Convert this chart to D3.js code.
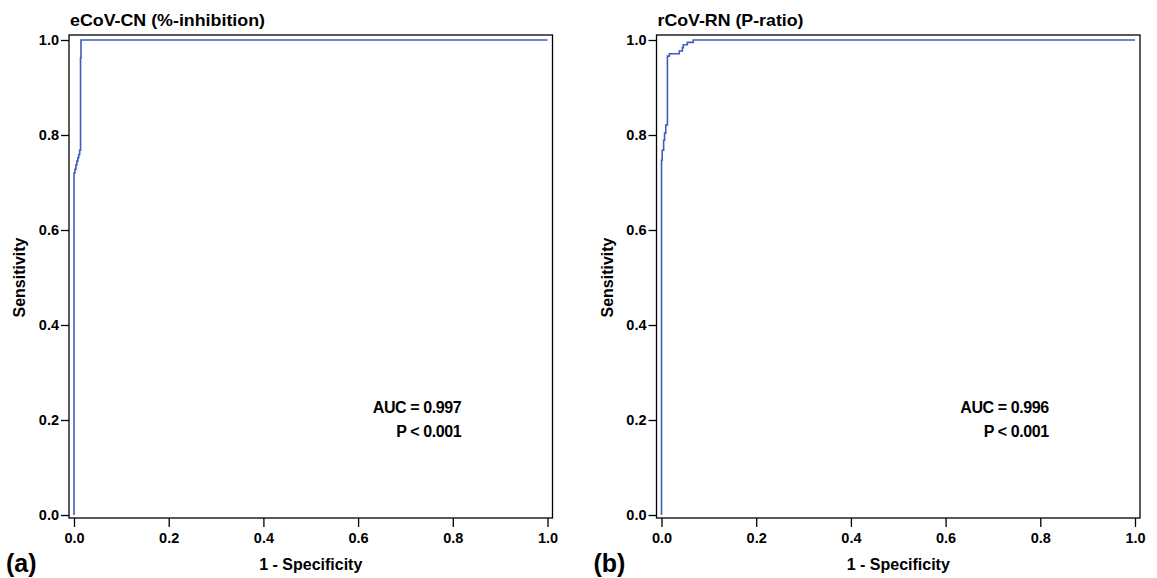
<!DOCTYPE html>
<html>
<head>
<meta charset="utf-8">
<script src="https://cdn.jsdelivr.net/npm/d3@7"></script>
<style>
  html, body { margin: 0; padding: 0; background: #fff; }
  svg { display: block; }
  text { font-family: "Liberation Sans", Arial, sans-serif; fill: #000; }
</style>
</head>
<body>
<svg id="chart" width="1157" height="578"></svg>
<script>
// ---- data ----
const tickValues = [0, 0.2, 0.4, 0.6, 0.8, 1.0];
const tickLabels = ["0.0", "0.2", "0.4", "0.6", "0.8", "1.0"];

const titles = ["eCoV-CN (%-inhibition)", "rCoV-RN (P-ratio)"];
const panelTags = ["(a)", "(b)"];
const aucTexts = ["AUC = 0.997", "AUC = 0.996"];
const pTexts = ["P < 0.001", "P < 0.001"];
const xLabel = "1 - Specificity";
const yLabel = "Sensitivity";

// ROC curve A: 1 - specificity
const rocA_fpr = [0, 0, 0.002, 0.002, 0.004, 0.004, 0.006, 0.006, 0.008, 0.008, 0.010, 0.010, 0.012, 0.012, 0.0138, 0.0138, 0.0148, 0.0148, 1];
// ROC curve A: sensitivity
const rocA_sens = [0, 0.720, 0.720, 0.728, 0.728, 0.737, 0.737, 0.745, 0.745, 0.752, 0.752, 0.759, 0.759, 0.768, 0.768, 0.962, 0.962, 1.0, 1.0];

// ROC curve B: 1 - specificity
const rocB_fpr = [0, 0, 0.0015, 0.0015, 0.0045, 0.0045, 0.0065, 0.0065, 0.009, 0.009, 0.0125, 0.0125, 0.0165, 0.0165, 0.0375, 0.0375, 0.044, 0.044, 0.046, 0.046, 0.0545, 0.0545, 0.067, 0.067, 1];
// ROC curve B: sensitivity
const rocB_sens = [0, 0.747, 0.747, 0.768, 0.768, 0.789, 0.789, 0.804, 0.804, 0.821, 0.821, 0.966, 0.966, 0.971, 0.971, 0.977, 0.977, 0.984, 0.984, 0.990, 0.990, 0.995, 0.995, 1.0, 1.0];

const curves = [
  rocA_fpr.map((f, i) => [f, rocA_sens[i]]),
  rocB_fpr.map((f, i) => [f, rocB_sens[i]])
];

// ---- layout ----
const svg = d3.select("#chart");
const panelX0 = [74, 661.5];
const plotW = 473.5;
const yTop = 40, yBottom = 515;
const frameTop = 35, frameBottom = 518;
const color = "#3f5dbd";

for (let p = 0; p < 2; p++) {
  const x0 = panelX0[p];
  const x = d3.scaleLinear().domain([0, 1]).range([x0, x0 + plotW]);
  const y = d3.scaleLinear().domain([0, 1]).range([yBottom, yTop]);
  const frameLeft = x0 - 5, frameRight = x0 + plotW + 5;
  const g = svg.append("g");

  // frame
  g.append("rect")
    .attr("x", frameLeft).attr("y", frameTop)
    .attr("width", frameRight - frameLeft).attr("height", frameBottom - frameTop)
    .attr("fill", "none").attr("stroke", "#000").attr("stroke-width", 1.3);

  // y axis
  const yAxis = d3.axisLeft(y).tickValues(tickValues)
    .tickFormat((d, i) => tickLabels[i]).tickSizeOuter(0).tickSize(8).tickPadding(2);
  const ya = g.append("g").attr("transform", `translate(${frameLeft},0)`).call(yAxis);
  ya.select(".domain").remove();
  ya.selectAll("line").attr("stroke", "#000").attr("stroke-width", 1.3);
  ya.selectAll("text").attr("font-family", "Liberation Sans, Arial, sans-serif")
    .attr("font-size", 14.5).attr("font-weight", "bold").attr("fill", "#000");

  // x axis
  const xAxis = d3.axisBottom(x).tickValues(tickValues)
    .tickFormat((d, i) => tickLabels[i]).tickSizeOuter(0).tickSize(9).tickPadding(6);
  const xa = g.append("g").attr("transform", `translate(0,${frameBottom})`).call(xAxis);
  xa.select(".domain").remove();
  xa.selectAll("line").attr("stroke", "#000").attr("stroke-width", 1.3);
  xa.selectAll("text").attr("font-family", "Liberation Sans, Arial, sans-serif")
    .attr("font-size", 14.5).attr("font-weight", "bold").attr("fill", "#000");

  // curve
  const line = d3.line().x(d => x(d[0])).y(d => y(d[1]));
  g.append("path").datum(curves[p])
    .attr("d", line).attr("fill", "none")
    .attr("stroke", color).attr("stroke-width", 1.6);

  // title
  g.append("text").attr("x", frameLeft + 1).attr("y", 25.5)
    .attr("font-size", 16.5).attr("font-weight", "bold")
    .attr("textLength", p === 0 ? 195 : 146).attr("lengthAdjust", "spacingAndGlyphs")
    .text(titles[p]);

  // axis labels
  g.append("text").attr("x", x(0.5)).attr("y", 570)
    .attr("text-anchor", "middle").attr("font-size", 16).attr("font-weight", "bold")
    .text(xLabel);
  g.append("text")
    .attr("transform", `translate(${frameLeft - 44},${y(0.5)}) rotate(-90)`)
    .attr("text-anchor", "middle").attr("font-size", 16).attr("font-weight", "bold")
    .text(yLabel);

  // AUC annotation
  const annX = x(0.818);
  g.append("text").attr("x", annX).attr("y", 412.5)
    .attr("text-anchor", "end").attr("font-size", 16).attr("font-weight", "bold")
    .attr("letter-spacing", -0.4)
    .text(aucTexts[p]);
  g.append("text").attr("x", annX).attr("y", 436.5)
    .attr("text-anchor", "end").attr("font-size", 16).attr("font-weight", "bold")
    .attr("letter-spacing", -0.4)
    .text(pTexts[p]);

  // panel tag
  g.append("text").attr("x", frameLeft - 63).attr("y", 572)
    .attr("font-family", "Open Sans, Noto Sans, sans-serif")
    .attr("font-size", 25).attr("font-weight", "bold")
    .text(panelTags[p]);
}
</script>
</body>
</html>
